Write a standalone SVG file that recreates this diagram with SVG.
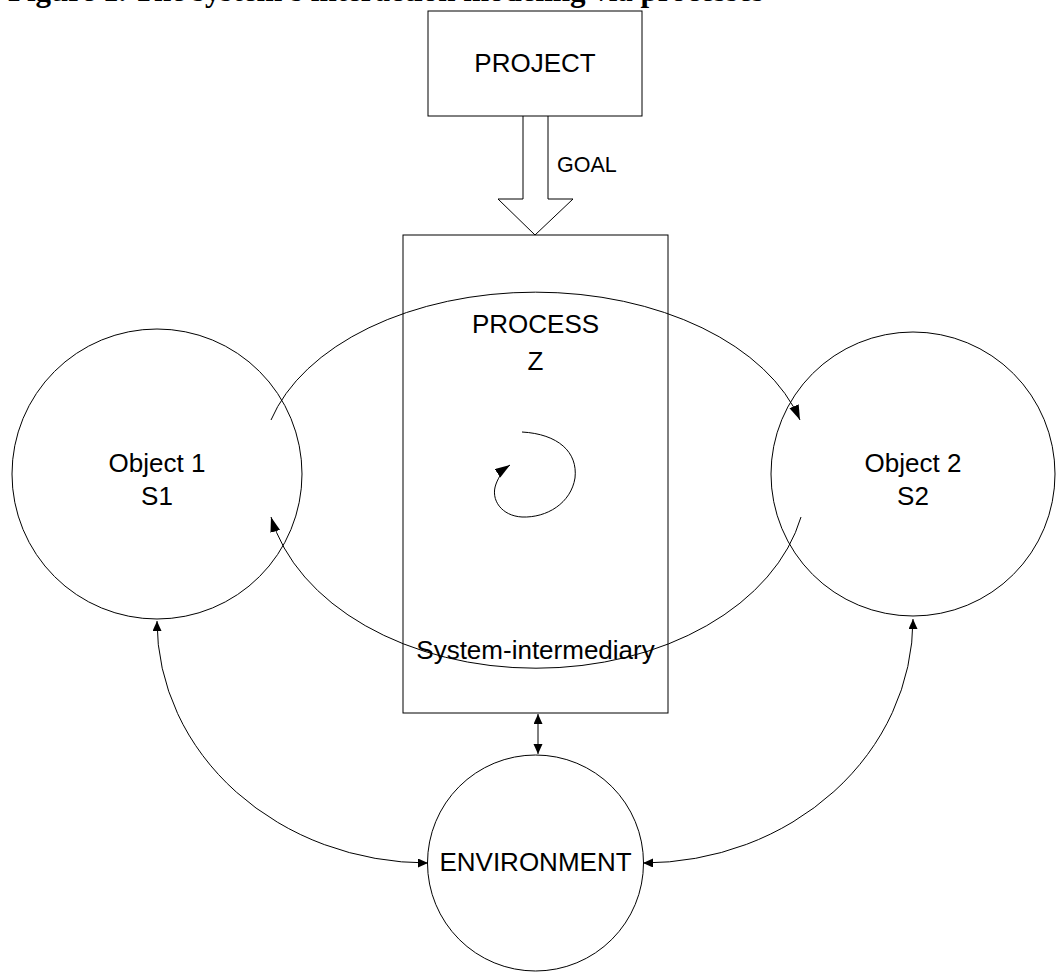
<svg xmlns="http://www.w3.org/2000/svg" width="1058" height="972" viewBox="0 0 1058 972">
<style>
.shape{fill:none;stroke:#000;stroke-width:1}
.lbl{font-family:"Liberation Sans",Arial,sans-serif;font-size:26px;fill:#000;text-anchor:middle}
.line{fill:none;stroke:#000;stroke-width:1}
</style>
<defs>
<marker id="big" markerUnits="userSpaceOnUse" markerWidth="16" markerHeight="12" refX="15" refY="5" orient="auto-start-reverse" viewBox="0 0 16 12"><path d="M0,0 L15,5 L0,10 z" fill="#000"/></marker>
<marker id="small" markerUnits="userSpaceOnUse" markerWidth="11" markerHeight="10" refX="10" refY="4.5" orient="auto-start-reverse" viewBox="0 0 11 10"><path d="M0,0 L10,4.5 L0,9 z" fill="#000"/></marker>
</defs>
<rect width="1058" height="972" fill="#fff"/>
<text x="8" y="1" font-family="'Liberation Serif','Times New Roman',serif" font-weight="bold" font-size="31">Figure 1. The system's interaction modeling via processes</text>
<g id="project">
<rect class="shape" x="428" y="11" width="214" height="105"/>
<text class="lbl" x="535" y="72">PROJECT</text>
</g>
<g id="goal">
<path class="shape" d="M523,116 L523,199 L498,199 L535,235 L573,199 L548,199 L548,116"/>
<text x="557" y="172" font-family="'Liberation Sans',Arial,sans-serif" font-size="21.5">GOAL</text>
</g>
<g id="process">
<rect class="shape" x="403" y="235" width="265" height="478"/>
<text class="lbl" x="535.5" y="333">PROCESS</text>
<text class="lbl" x="535.5" y="370">Z</text>
</g>
<g id="object1">
<circle class="shape" cx="157" cy="474" r="145"/>
<text class="lbl" x="157" y="472">Object 1</text>
<text class="lbl" x="157" y="505">S1</text>
</g>
<g id="object2">
<circle class="shape" cx="913" cy="474" r="142"/>
<text class="lbl" x="913" y="472">Object 2</text>
<text class="lbl" x="913" y="505">S2</text>
</g>
<g id="environment">
<circle class="shape" cx="535.5" cy="863" r="108"/>
<text class="lbl" x="535.5" y="871">ENVIRONMENT</text>
</g>
<g id="connectors">
<path class="line" d="M271,420 A274,173 0 0 1 800,420" marker-end="url(#big)"/>
<path class="line" d="M801,517 A270.7,190 0 0 1 271,517" marker-end="url(#big)"/>
<path class="line" d="M522,432 C558,434 578,452 575,478 C571,503 547,518 522,517 C502,516 490,500 496,484 C499,476 504,469 510,465" marker-end="url(#big)"/>
<path class="line" d="M157,621 A271,242 0 0 0 428,863" marker-start="url(#small)" marker-end="url(#small)"/>
<path class="line" d="M913,619 A270,244 0 0 1 643,863" marker-start="url(#small)" marker-end="url(#small)"/>
<path class="line" d="M538,714 L538,754" marker-start="url(#small)" marker-end="url(#small)"/>
</g>
<g id="system-label">
<text class="lbl" x="535.5" y="659">System-intermediary</text>
</g>
</svg>
